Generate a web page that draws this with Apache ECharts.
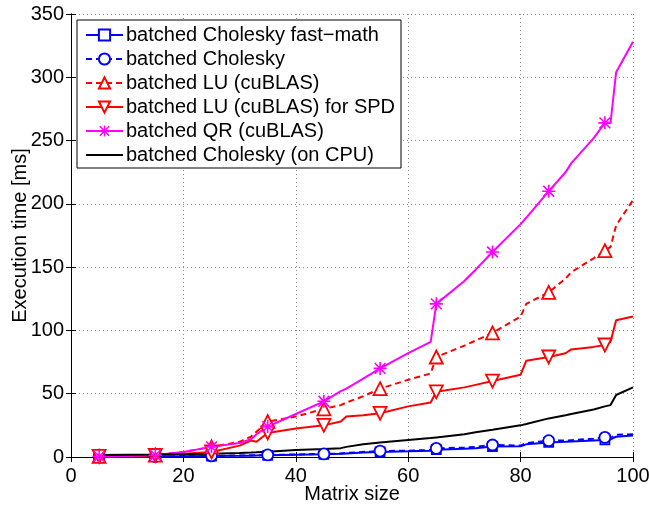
<!DOCTYPE html>
<html>
<head>
<meta charset="utf-8">
<script src="https://cdn.jsdelivr.net/npm/echarts@6/dist/echarts.min.js"></script>
<style>html,body{margin:0;padding:0;background:#fff;}#c{width:649px;height:507px;}</style>
</head>
<body>
<div id="c"></div>
<script>
// Matrix sizes (x values)
var sizes = [5,10,15,20,25,30,32,33,35,40,45,48,49,52,55,60,64,65,70,72,75,80,81,85,88,89,93,95,96,97,100];
// Marker positions
var markerSizes = [5,15,25,35,45,55,65,75,85,95];
// Series values (ms)
var cholFast = [0.2,0.3,0.4,0.5,0.7,0.9,1,1.1,1.3,1.7,2.1,2.5,2.8,3.5,4,4.5,5,5.8,6.5,7,8.3,8.5,10,11.5,12,12.3,13,13.5,14,16,17];
var chol     = [0.3,0.4,0.5,0.7,0.9,1.2,1.3,1.4,1.6,2,2.4,2.8,3.2,4,4.7,5,5.5,6.8,7.5,8,9.5,9,11,12.9,13,13.3,14.5,15.5,15,17.5,18];
var luCublas = [0.5,0.8,1.5,4,8,12,16,20,28,32,38,41,43,48,54,61,66,79,88,92,98,111,121,130,141,146,157,163,166,183,203];
var luSpd    = [0.5,0.8,1.2,2.5,4,9,13,12,19,22.5,25,28,32,33,34.5,40,43,51.5,55,57,60,65,76,79,82,85,87,88.5,91,108,111];
var qr       = [0.5,0.8,1.5,4,8,11,14,18,24,34,44,52,54,62,70,82,91,121,139,148,162,184,189,210,225,232,252,264,264,304,328];
var cpu      = [1.5,1.7,1.9,2.2,2.5,3.2,3.5,3.7,4.2,5.5,6.3,7,8,10,11.5,13.5,15,15.5,18,19.5,21.5,25,26,30.5,33,34,37.5,40,41,49,55];
var names = ['batched Cholesky fast\u2212math','batched Cholesky','batched LU (cuBLAS)','batched LU (cuBLAS) for SPD','batched QR (cuBLAS)','batched Cholesky (on CPU)'];
var xTicks = {min:0, max:100, interval:20};
var yTicks = {min:0, max:350, interval:50};

var FONT = "'Liberation Sans', Arial, Helvetica, sans-serif";
var asterisk = 'path://M10.5,0H13.5V24H10.5Z M0,10.5H24V13.5H0Z M1,3.1L3.1,1L23,20.9L20.9,23Z M20.9,1L23,3.1L3.1,23L1,20.9Z';

function mk(vals) {
  return sizes.map(function(x, i) {
    var d = {value: [x, vals[i]]};
    if (markerSizes.indexOf(x) < 0) d.symbol = 'none';
    return d;
  });
}
function series(name, vals, color, dashed, sym, size, rot, filled) {
  return {
    name: name, type: 'line', data: sym === 'none' ? sizes.map(function(x,i){return [x, vals[i]];}) : mk(vals), showAllSymbol: true,
    symbol: sym, symbolSize: size, symbolRotate: rot || 0,
    lineStyle: {color: color, width: 2, type: dashed ? [6,4] : 'solid'},
    itemStyle: filled ? {color: color, borderWidth: 0} : {color: '#fff', borderColor: color, borderWidth: 1.8},
    emphasis: {disabled: true}, animation: false
  };
}
var chart = echarts.init(document.getElementById('c'), null, {renderer: 'canvas'});
var axisCommon = {
  axisLine: {show: true, lineStyle: {color: '#000', width: 1}},
  axisTick: {show: true, inside: true, length: 5, lineStyle: {color: '#000'}}
};
var legendData = names.map(function(n, i) {
  return i === 5 ? {name: n, icon: 'path://M0,0H37V2H0Z'} : {name: n};
});
chart.setOption({
  animation: false,
  backgroundColor: '#fff',
  textStyle: {fontFamily: FONT},
  grid: {left: 71, top: 14, width: 562, height: 443, show: false, containLabel: false, outerBoundsMode: 'none'},
  legend: {
    orient: 'vertical', left: 77, top: 20, padding: [5, 6, 3, 8],
    backgroundColor: '#fff', borderColor: '#000', borderWidth: 1, borderRadius: 0,
    itemWidth: 37, itemHeight: 14, itemGap: 4,
    textStyle: {fontSize: 20, color: '#000', fontFamily: FONT, lineHeight: 20, padding: [0,0,0,-2]},
    data: legendData
  },
  xAxis: [
    Object.assign({type: 'value', position: 'bottom', min: xTicks.min, max: xTicks.max, interval: xTicks.interval,
      name: 'Matrix size', nameLocation: 'middle', nameGap: 27, nameMoveOverlap: false,
      nameTextStyle: {fontSize: 20, color: '#000', fontFamily: FONT},
      axisLabel: {fontSize: 20, color: '#000', margin: 9, fontFamily: FONT},
      splitLine: {show: true, lineStyle: {color: '#888', width: 1, type: [1,3]}}}, axisCommon),
    Object.assign({type: 'value', position: 'top', min: xTicks.min, max: xTicks.max, interval: xTicks.interval,
      axisLabel: {show: false}, splitLine: {show: false}}, axisCommon)
  ],
  yAxis: [
    Object.assign({type: 'value', position: 'left', min: yTicks.min, max: yTicks.max, interval: yTicks.interval,
      name: 'Execution time [ms]', nameLocation: 'middle', nameGap: 41, nameMoveOverlap: false,
      nameTextStyle: {fontSize: 20, color: '#000', fontFamily: FONT},
      axisLabel: {fontSize: 20, color: '#000', margin: 7, fontFamily: FONT},
      splitLine: {show: true, lineStyle: {color: '#888', width: 1, type: [1,3]}}}, axisCommon),
    Object.assign({type: 'value', position: 'right', min: yTicks.min, max: yTicks.max, interval: yTicks.interval,
      axisLabel: {show: false}, splitLine: {show: false}}, axisCommon)
  ],
  series: [
    series(names[0], cholFast, '#0000ff', false, 'rect', 9, 0, false),
    series(names[1], chol, '#0000ff', true, 'circle', 11, 0, false),
    series(names[2], luCublas, '#ff0000', true, 'triangle', 13, 0, false),
    series(names[3], luSpd, '#ff0000', false, 'triangle', 13, 180, false),
    series(names[4], qr, '#ff00ff', false, asterisk, 13, 0, true),
    series(names[5], cpu, '#000000', false, 'none', 1, 0, true)
  ]
});
</script>
</body>
</html>
